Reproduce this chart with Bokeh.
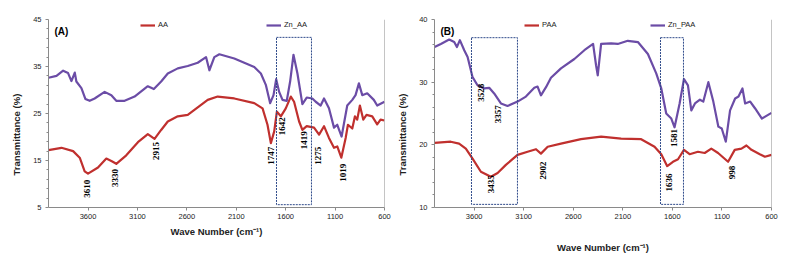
from bokeh.plotting import figure
from bokeh.layouts import row
from bokeh.models import (Range1d, FixedTicker, Legend, LegendItem, Label, Span)
from bokeh.embed import file_html
from bokeh.resources import INLINE
from bokeh.core.properties import value
import numpy as np

# ---------------- Panel A: AA vs Zn_AA ----------------
a_zn_wn = [4000, 3919, 3852, 3802, 3768, 3734, 3718, 3667, 3627, 3583, 3533, 3432, 3364,
           3314, 3230, 3129, 2995, 2934, 2860, 2793, 2692, 2591, 2490, 2406, 2372, 2322,
           2271, 2120, 1918, 1851, 1801, 1757, 1723, 1696, 1666, 1632, 1589, 1555, 1521,
           1481, 1431, 1387, 1330, 1296, 1246, 1212, 1162, 1111, 1078, 1034, 977, 926,
           893, 859, 825, 775, 708, 674, 600]
a_zn_t = [32.6, 33.0, 34.1, 33.6, 31.9, 33.7, 31.8, 30.4, 28.1, 27.7, 28.2, 29.6, 28.9,
          27.7, 27.7, 28.6, 30.8, 30.2, 31.8, 33.5, 34.6, 35.1, 35.8, 37.0, 34.2, 37.0,
          37.6, 36.7, 34.9, 33.5, 31.1, 27.2, 28.9, 32.3, 29.6, 27.9, 27.7, 31.8, 37.5,
          33.5, 27.0, 28.4, 28.2, 27.5, 26.7, 28.2, 26.1, 22.0, 22.6, 20.1, 26.7, 27.9,
          28.9, 31.4, 28.9, 29.3, 27.9, 26.7, 27.5]

a_aa_wn = [4000, 3869, 3751, 3684, 3634, 3600, 3499, 3415, 3364, 3314, 3213, 3095, 2995,
           2927, 2860, 2793, 2692, 2591, 2490, 2389, 2288, 2120, 1918, 1834, 1784, 1750,
           1716, 1689, 1649, 1599, 1548, 1515, 1464, 1431, 1387, 1313, 1262, 1212, 1162,
           1111, 1078, 1037, 993, 970, 926, 899, 876, 849, 815, 782, 724, 674, 640, 600]
a_aa_t = [17.2, 17.7, 17.0, 15.6, 12.7, 12.2, 13.5, 15.4, 14.9, 14.3, 16.1, 18.9, 20.6,
          19.6, 21.5, 23.3, 24.4, 24.7, 26.3, 27.9, 28.6, 28.2, 27.2, 26.1, 22.6, 18.7,
          21.2, 25.4, 24.4, 26.1, 28.6, 27.5, 23.3, 21.5, 22.3, 22.0, 20.5, 22.3, 19.8,
          17.7, 18.0, 15.6, 19.8, 22.6, 21.8, 24.4, 23.7, 26.7, 23.7, 24.7, 24.4, 22.7,
          23.7, 23.5]

a_peaks = [3610, 3330, 2915, 1747, 1642, 1419, 1275, 1019]
a_peak_label_y = [9.0, 11.3, 17.0, 16.0, 22.3, 19.3, 16.0, 12.4]

a_box_left, a_box_right = [1693], [1339]
a_box_top, a_box_bottom = [41.2], [5.6]

# ---------------- Panel B: PAA vs Zn_PAA ----------------
b_zn_wn = [4000, 3936, 3852, 3801, 3774, 3744, 3700, 3666, 3616, 3566, 3498, 3448, 3398,
           3330, 3263, 3162, 3078, 2993, 2960, 2926, 2875, 2825, 2724, 2589, 2488, 2400,
           2370, 2353, 2319, 2218, 2151, 2050, 1948, 1847, 1763, 1712, 1662, 1611, 1578,
           1527, 1483, 1443, 1409, 1372, 1322, 1288, 1237, 1187, 1136, 1102, 1061, 1018,
           967, 933, 893, 866, 815, 765, 697, 600]
b_zn_t = [35.6, 36.1, 36.8, 36.4, 35.6, 36.7, 35.1, 34.0, 30.8, 29.5, 29.0, 29.1, 28.2,
          26.6, 26.2, 26.9, 27.7, 29.1, 29.3, 27.9, 29.2, 30.7, 32.2, 33.7, 35.1, 36.1,
          32.7, 31.1, 36.1, 36.2, 36.1, 36.6, 36.4, 34.5, 31.4, 29.0, 25.0, 24.2, 22.8,
          26.6, 30.5, 29.5, 25.5, 26.6, 27.2, 26.9, 30.0, 26.9, 22.9, 22.6, 20.5, 25.5,
          27.4, 27.7, 29.0, 26.6, 26.9, 25.8, 24.2, 25.1]

b_paa_wn = [4000, 3836, 3752, 3684, 3616, 3532, 3431, 3363, 3280, 3162, 3061, 2976, 2926,
            2858, 2724, 2522, 2319, 2117, 1915, 1780, 1712, 1652, 1594, 1543, 1483, 1426,
            1342, 1274, 1207, 1139, 1038, 971, 903, 853, 802, 718, 667, 600]
b_paa_t = [20.3, 20.5, 20.2, 19.4, 17.8, 15.7, 14.9, 15.5, 16.8, 18.4, 18.9, 19.3, 18.6,
           19.7, 20.2, 20.9, 21.3, 21.0, 20.9, 19.7, 18.5, 16.6, 17.3, 17.7, 19.2, 18.5,
           18.9, 18.7, 19.4, 18.7, 17.3, 19.2, 19.4, 19.9, 19.2, 18.5, 18.1, 18.4]

b_peaks = [3528, 3357, 3435, 2902, 1636, 1581, 998]
b_peak_label_y = [28.3, 24.9, 13.7, 15.9, 14.0, 21.1, 15.6]

b_box_left, b_box_right = [3627, 1720], [3163, 1488]
b_box_top, b_box_bottom = [37.1, 37.1], [10.5, 10.5]

x_ticks = [3600, 3100, 2600, 2100, 1600, 1100, 600]

RED = "#C0302E"
PURPLE = "#6B4CA6"
BOX = "#2E4A8A"
AXIS = "#8A8A8A"
SANS = "Liberation Sans"
SERIF = "Liberation Serif"

# the vertical title sits below the axis centre; trailing no-break spaces push it down
Y_TITLE = "Transmittance (%)" + "\u00a0" * 16


def make_panel(tag, y0, y1, y_major, names, series, peaks, peak_y, boxes,
               borders, title_standoff, legend_x, legend_gap):
    p = figure(width=394, height=269, output_backend="svg", toolbar_location=None,
               x_range=Range1d(4000, 600), y_range=Range1d(y0, y1),
               min_border_left=borders[0], min_border_right=borders[1],
               min_border_top=borders[2], min_border_bottom=borders[3])
    p.grid.visible = False
    p.outline_line_color = None
    p.background_fill_color = "white"
    p.border_fill_color = "white"

    renderers = []
    for (wn, t), col in zip(series, [RED, PURPLE]):
        r = p.line(wn, t, line_color=col, line_width=2.2, line_join="round")
        renderers.append(r)

    # highlighted regions
    bl, br, bt, bb = boxes
    p.quad(left=bl, right=br, top=bt, bottom=bb, fill_color=None,
           line_color=BOX, line_width=1, line_dash="2 1")

    # peak labels
    p.text(x=peaks, y=peak_y, text=[str(v) for v in peaks], angle=np.pi / 2,
           text_align="center", text_baseline="middle",
           text_font=value(SERIF), text_font_style="bold",
           text_font_size="9px", text_color="black")

    # right border of the plot area
    p.add_layout(Span(location=600, dimension="height", line_color=AXIS, line_width=1))

    minor = [v for v in range(y0, y1 + 1, 2) if v not in y_major]
    p.yaxis.ticker = FixedTicker(ticks=y_major, minor_ticks=minor)
    p.xaxis.ticker = FixedTicker(ticks=x_ticks)
    for ax in (p.xaxis, p.yaxis):
        ax.axis_line_color = AXIS
        ax.major_tick_line_color = AXIS
        ax.minor_tick_line_color = AXIS
        ax.major_tick_in = 0
        ax.major_tick_out = 3
        ax.minor_tick_in = 0
        ax.minor_tick_out = 2
        ax.major_label_text_font = SANS
        ax.major_label_text_font_size = "7.5px"
        ax.major_label_text_color = "#222222"
        ax.axis_label_text_font = SANS
        ax.axis_label_text_font_style = "bold"
        ax.axis_label_text_font_size = "9.5px"
        ax.axis_label_text_color = "#222222"
    p.xaxis.minor_tick_line_color = None
    p.xaxis.major_label_standoff = 3
    p.yaxis.major_label_standoff = 4
    p.xaxis.axis_label = "Wave Number (cm\u207b\u00b9)"
    p.xaxis.axis_label_standoff = title_standoff
    p.yaxis.axis_label = Y_TITLE
    p.yaxis.axis_label_standoff = 8

    legend = Legend(items=[LegendItem(label=n, renderers=[r]) for n, r in zip(names, renderers)],
                    orientation="horizontal", location=(legend_x, 178),
                    spacing=legend_gap, glyph_width=15, glyph_height=8,
                    label_height=8, label_standoff=3, padding=0, margin=0,
                    label_text_font=SANS, label_text_font_size="7.5px",
                    label_text_color="#222222",
                    background_fill_alpha=0, border_line_alpha=0)
    p.add_layout(legend, "center")

    p.add_layout(Label(x=6, y=y1, x_units="screen", y_units="data", y_offset=-17,
                       text=tag, text_font=SANS, text_font_style="bold",
                       text_font_size="10px", text_color="black"))
    return p


pa = make_panel("(A)", 5, 45, [5, 15, 25, 35, 45], ["AA", "Zn_AA"],
                [(a_aa_wn, a_aa_t), (a_zn_wn, a_zn_t)],
                a_peaks, a_peak_label_y,
                (a_box_left, a_box_right, a_box_top, a_box_bottom),
                (48, 10, 17, 62), 4, 92, 88)

pb = make_panel("(B)", 10, 40, [10, 20, 30, 40], ["PAA", "Zn_PAA"],
                [(b_paa_wn, b_paa_t), (b_zn_wn, b_zn_t)],
                b_peaks, b_peak_label_y,
                (b_box_left, b_box_right, b_box_top, b_box_bottom),
                (40, 17, 19, 61), 20, 90, 88)

layout = row(pa, pb)
open("out.html", "w").write(file_html(layout, INLINE))
